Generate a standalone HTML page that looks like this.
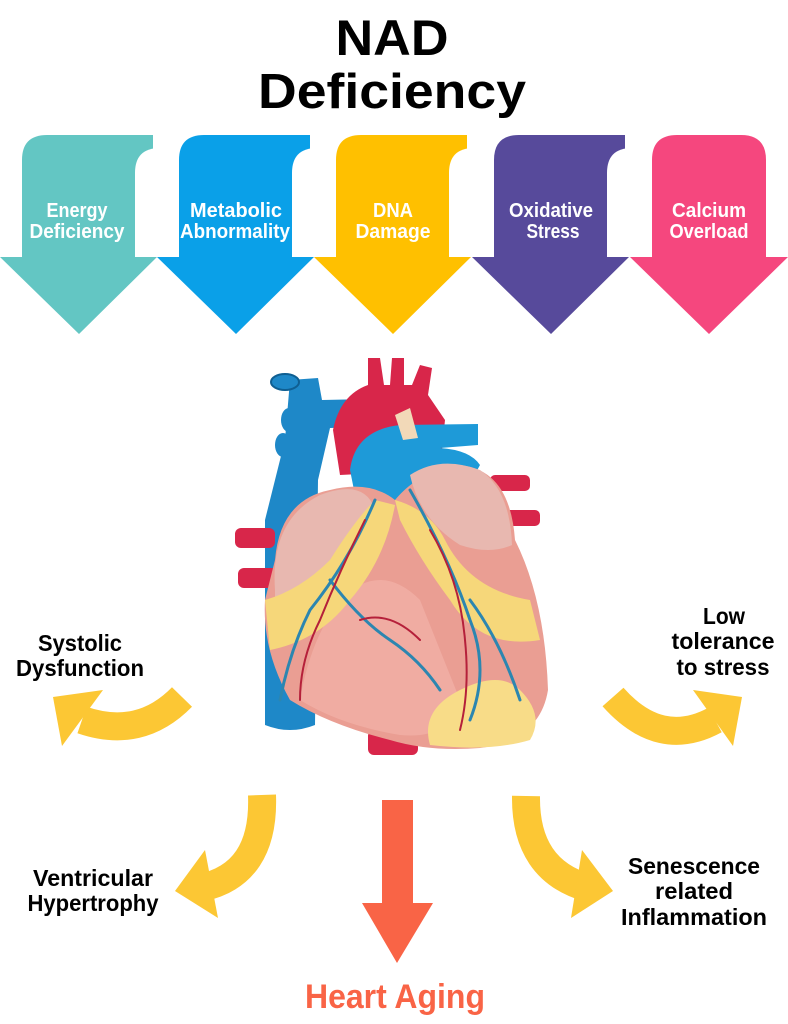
<!DOCTYPE html>
<html><head><meta charset="utf-8"><style>
html,body{margin:0;padding:0;background:#fff;}
svg{display:block}
.t{font-family:"Liberation Sans",sans-serif;font-weight:bold;}
</style></head><body>
<svg width="788" height="1024" viewBox="0 0 788 1024" xmlns="http://www.w3.org/2000/svg">
<text x="392" y="55" text-anchor="middle" font-family="Liberation Sans,sans-serif" font-weight="bold" font-size="50" textLength="113" lengthAdjust="spacingAndGlyphs">NAD</text>
<text x="392" y="108" text-anchor="middle" font-family="Liberation Sans,sans-serif" font-weight="bold" font-size="49" textLength="268" lengthAdjust="spacingAndGlyphs">Deficiency</text>

<g>
<path d="M22 160 Q22 135 47 135 L153 135 L153 257 L157 257 L79 334 L0 257 L22 257 Z" fill="#63C6C3"/>
<path d="M179 160 Q179 135 204 135 L310 135 L310 257 L314 257 L236 334 L157 257 L179 257 Z" fill="#0AA0E8"/>
<path d="M336 160 Q336 135 361 135 L467 135 L467 257 L471 257 L393 334 L314 257 L336 257 Z" fill="#FFC000"/>
<path d="M494 160 Q494 135 519 135 L625 135 L625 257 L629 257 L551 334 L472 257 L494 257 Z" fill="#574A9B"/>
<path d="M652 160 Q652 135 677 135 L741 135 Q766 135 766 160 L766 257 L788 257 L709 334 L630 257 L652 257 Z" fill="#F5477E"/>
<path d="M135 257 L135 173 Q135 148 160 148 L179 148 L179 257 Z" fill="#fff"/>
<path d="M292 257 L292 173 Q292 148 317 148 L336 148 L336 257 Z" fill="#fff"/>
<path d="M449 257 L449 173 Q449 148 474 148 L494 148 L494 257 Z" fill="#fff"/>
<path d="M607 257 L607 173 Q607 148 632 148 L652 148 L652 257 Z" fill="#fff"/>
</g>
<g class="t" fill="#fff" font-size="20" text-anchor="middle" lengthAdjust="spacingAndGlyphs">
<text x="77" y="217" textLength="61" lengthAdjust="spacingAndGlyphs">Energy</text><text x="77" y="238" textLength="95" lengthAdjust="spacingAndGlyphs">Deficiency</text>
<text x="236" y="217" textLength="92" lengthAdjust="spacingAndGlyphs">Metabolic</text><text x="235" y="238" textLength="110" lengthAdjust="spacingAndGlyphs">Abnormality</text>
<text x="393" y="217" textLength="40" lengthAdjust="spacingAndGlyphs">DNA</text><text x="393" y="238" textLength="75" lengthAdjust="spacingAndGlyphs">Damage</text>
<text x="551" y="217" textLength="84" lengthAdjust="spacingAndGlyphs">Oxidative</text><text x="553" y="238" textLength="53" lengthAdjust="spacingAndGlyphs">Stress</text>
<text x="709" y="217" textLength="74" lengthAdjust="spacingAndGlyphs">Calcium</text><text x="709" y="238" textLength="79" lengthAdjust="spacingAndGlyphs">Overload</text>
</g>

<g>
<path d="M290 380 L318 378 L322 400 L420 398 L420 425 L330 428 L318 480 L315 725 Q290 735 265 725 L265 520 L285 440 Z" fill="#1E88C8"/>
<ellipse cx="285" cy="382" rx="14" ry="8" fill="#1E88C8" stroke="#0f5f92" stroke-width="2"/>
<ellipse cx="289" cy="420" rx="8" ry="12" fill="#1E88C8"/>
<ellipse cx="283" cy="445" rx="8" ry="12" fill="#1E88C8"/>
<path d="M368 358 L380 358 L384 385 L390 385 L392 358 L404 358 L404 385 L412 385 L420 365 L432 368 L428 395 L445 420 L440 470 L340 475 L333 430 Q340 395 368 385 Z" fill="#D8264A"/>
<path d="M350 470 Q355 430 400 425 L478 424 L478 445 L440 448 Q470 450 480 465 L450 520 L360 520 Z" fill="#1E9AD8"/>
<path d="M395 415 L410 408 L418 438 L403 440 Z" fill="#F2D9B8"/>
<rect x="490" y="475" width="40" height="16" rx="5" fill="#D8264A"/>
<rect x="500" y="510" width="40" height="16" rx="5" fill="#D8264A"/>
<rect x="235" y="528" width="40" height="20" rx="6" fill="#D8264A"/>
<rect x="238" y="568" width="40" height="20" rx="6" fill="#D8264A"/>
<rect x="368" y="730" width="50" height="25" rx="6" fill="#D8264A"/>
<path d="M275 560 Q280 500 330 490 Q370 480 395 500 Q420 470 460 465 Q510 470 515 540 Q545 600 548 690 Q540 740 480 748 Q430 752 390 740 Q330 725 290 700 Q262 650 265 600 Z" fill="#EA9E93"/>
<path d="M300 700 Q340 725 400 735 Q450 740 460 700 Q440 650 420 600 Q380 560 340 600 Q310 640 300 700Z" fill="#F2B2A8" opacity="0.7"/>
<path d="M275 590 Q270 520 320 495 Q365 478 375 510 Q370 560 330 590 Q300 620 275 630Z" fill="#E8B8B0"/>
<path d="M410 475 Q440 455 480 470 Q510 490 512 545 Q490 555 460 545 Q420 520 410 475Z" fill="#E8B8B0"/>
<path d="M265 600 Q300 590 330 560 Q355 520 375 500 L395 505 Q385 560 350 600 Q320 640 270 650 Z" fill="#F6D77A"/>
<path d="M395 500 Q430 510 445 540 Q470 590 530 600 L540 640 Q480 650 450 600 Q420 560 400 520Z" fill="#F6D77A"/>
<path d="M430 745 Q420 710 460 690 Q500 670 520 690 Q545 715 530 740 Q490 752 430 745Z" fill="#F8DC88"/>
<g fill="none" stroke-width="3" stroke-linecap="round">
<path d="M375 500 Q350 560 310 610 Q290 650 280 700" stroke="#2C86B0"/>
<path d="M330 580 Q360 620 390 640 Q420 660 440 690" stroke="#2C86B0"/>
<path d="M410 490 Q450 560 470 620 Q490 670 470 720" stroke="#2C86B0"/>
<path d="M470 600 Q500 640 520 700" stroke="#2C86B0"/>
<path d="M365 520 Q340 570 320 620 Q300 660 300 700" stroke="#B5203A" stroke-width="2"/>
<path d="M430 530 Q460 580 465 640 Q470 690 460 730" stroke="#B5203A" stroke-width="2"/>
<path d="M360 620 Q390 610 420 640" stroke="#B5203A" stroke-width="2"/>
</g>
</g>

<g fill="none" stroke="#FCC734" stroke-width="28">
<path d="M182 697 Q140 740 82 720"/>
<path d="M262 795 Q265 875 200 888"/>
<path d="M613 697 Q660 750 715 720"/>
<path d="M526 796 Q525 870 588 888"/>
</g>
<g fill="#FCC734">
<polygon points="53,697 103,690 62,746"/>
<polygon points="175,891 205,850 218,918"/>
<polygon points="742,697 693,690 733,746"/>
<polygon points="613,891 582,850 571,918"/>
</g>
<polygon points="382,800 413,800 413,903 433,903 397,963 362,903 382,903" fill="#F96446"/>

<g class="t" font-size="23" text-anchor="middle" fill="#000">
<text x="80" y="651" textLength="84" lengthAdjust="spacingAndGlyphs">Systolic</text><text x="80" y="676" textLength="128" lengthAdjust="spacingAndGlyphs">Dysfunction</text>
<text x="93" y="886" textLength="120" lengthAdjust="spacingAndGlyphs">Ventricular</text><text x="93" y="911" textLength="131" lengthAdjust="spacingAndGlyphs">Hypertrophy</text>
<text x="724" y="624" textLength="42" lengthAdjust="spacingAndGlyphs">Low</text><text x="723" y="649" textLength="103" lengthAdjust="spacingAndGlyphs">tolerance</text><text x="723" y="675" textLength="93" lengthAdjust="spacingAndGlyphs">to stress</text>
<text x="694" y="874" textLength="132" lengthAdjust="spacingAndGlyphs">Senescence</text><text x="694" y="899" textLength="78" lengthAdjust="spacingAndGlyphs">related</text><text x="694" y="925" textLength="146" lengthAdjust="spacingAndGlyphs">Inflammation</text>
</g>
<text class="t" x="395" y="1008" text-anchor="middle" font-size="34" fill="#F96446" textLength="180" lengthAdjust="spacingAndGlyphs">Heart Aging</text>
</svg>
</body></html>
